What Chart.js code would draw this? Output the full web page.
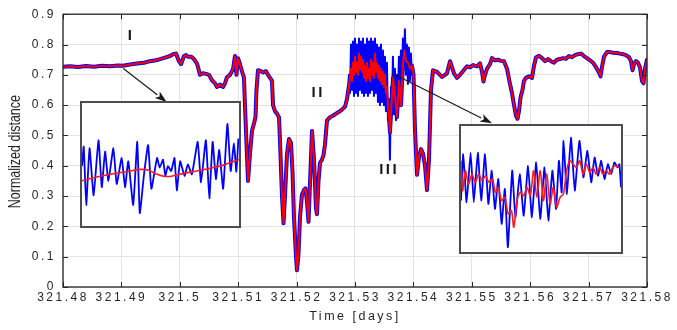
<!DOCTYPE html>
<html>
<head>
<meta charset="utf-8">
<script src="https://cdn.jsdelivr.net/npm/chart.js@4.4.1/dist/chart.umd.min.js"></script>
<style>
  html, body { margin: 0; padding: 0; background: #fff; }
  #wrap { position: relative; width: 677px; height: 330px; }
  #main { position: absolute; left: 0; top: 0; }
  .inset { position: absolute; background: #fff; border: 2px solid #4d4d4d; box-sizing: border-box; }
  .inset canvas { display: block; }
</style>
</head>
<body>
<div id="wrap">
  <canvas id="main" width="677" height="330"></canvas>
  <div class="inset" style="left:80px;top:101px;width:161px;height:127px;"><canvas id="inset1" width="157" height="123"></canvas></div>
  <div class="inset" style="left:459px;top:124px;width:164px;height:130px;"><canvas id="inset2" width="160" height="126"></canvas></div>
</div>
<script>
// axis ticks
const xTicks = [321.48, 321.49, 321.50, 321.51, 321.52, 321.53, 321.54, 321.55, 321.56, 321.57, 321.58];
const xTickLabels = ['321.48', '321.49', '321.5', '321.51', '321.52', '321.53', '321.54', '321.55', '321.56', '321.57', '321.58'];
const yTicks = [0, 0.1, 0.2, 0.3, 0.4, 0.5, 0.6, 0.7, 0.8, 0.9];
const yTickLabels = ['0', '0.1', '0.2', '0.3', '0.4', '0.5', '0.6', '0.7', '0.8', '0.9'];

// filtered (red) trace: time [days] and normalized distance
// (null = gap, the noisy part is in filtBurstV below)
const filtT = [
  321.48000, 321.48120, 321.48257, 321.48394, 321.48531, 321.48668, 321.48805, 321.48942, 321.49027, 321.49147,
  321.49267, 321.49387, 321.49490, 321.49592, 321.49661, 321.49747, 321.49832, 321.49884, 321.49935, 321.49986,
  321.50021, 321.50072, 321.50106, 321.50140, 321.50192, 321.50243, 321.50295, 321.50346, 321.50397, 321.50449,
  321.50500, 321.50551, 321.50603, 321.50637, 321.50688, 321.50740, 321.50774, 321.50808, 321.50860, 321.50911,
  321.50945, 321.50971, 321.50997, 321.51031, 321.51065, 321.51099, 321.51116, 321.51151, 321.51168, 321.51202,
  321.51236, 321.51271, 321.51296, 321.51313, 321.51339, 321.51390, 321.51425, 321.51476, 321.51510, 321.51545,
  321.51579, 321.51596, 321.51630, 321.51664, 321.51699, 321.51716, 321.51750, 321.51776, 321.51801, 321.51836,
  321.51870, 321.51904, 321.51930, 321.51955, 321.51990, 321.52007, 321.52033, 321.52058, 321.52092, 321.52127,
  321.52152, 321.52178, 321.52204, 321.52229, 321.52264, 321.52298, 321.52332, 321.52349, 321.52375, 321.52401,
  321.52435, 321.52461, 321.52486, 321.52521, 321.52572, 321.52623, 321.52675, 321.52726, 321.52777, 321.52829,
  321.52863, 321.52897,
  321.53300, 321.53582,
  321.53599, 321.53625, 321.53651, 321.53685, 321.53719, 321.53753, 321.53788, 321.53822, 321.53848, 321.53873,
  321.53908, 321.53942, 321.53976, 321.54002, 321.54027, 321.54062, 321.54096, 321.54130, 321.54164, 321.54199,
  321.54233, 321.54267, 321.54301, 321.54336, 321.54404, 321.54455, 321.54490, 321.54541, 321.54575, 321.54627,
  321.54661, 321.54695, 321.54747, 321.54798, 321.54849, 321.54918, 321.54969, 321.55021, 321.55089, 321.55140,
  321.55175, 321.55200, 321.55226, 321.55260, 321.55312, 321.55346, 321.55397, 321.55449, 321.55500, 321.55551,
  321.55603, 321.55654, 321.55688, 321.55723, 321.55757, 321.55783, 321.55808, 321.55834, 321.55868, 321.55894,
  321.55928, 321.55979, 321.56031, 321.56065, 321.56099, 321.56151, 321.56202, 321.56253, 321.56305, 321.56356,
  321.56408, 321.56459, 321.56510, 321.56562, 321.56613, 321.56664, 321.56716, 321.56767, 321.56818, 321.56870,
  321.56921, 321.56973, 321.57024, 321.57075, 321.57127, 321.57178, 321.57204, 321.57229, 321.57264, 321.57315,
  321.57366, 321.57418, 321.57486, 321.57538, 321.57589, 321.57640, 321.57692, 321.57726, 321.57752, 321.57777,
  321.57812, 321.57846, 321.57880, 321.57914, 321.57940, 321.57966, 321.58000
];
const filtV = [
  0.727, 0.728, 0.726, 0.729, 0.727, 0.730, 0.728, 0.731, 0.730, 0.734,
  0.737, 0.740, 0.745, 0.748, 0.752, 0.757, 0.762, 0.768, 0.770, 0.745,
  0.735, 0.762, 0.765, 0.760, 0.760, 0.752, 0.737, 0.700, 0.705, 0.703,
  0.700, 0.682, 0.672, 0.660, 0.668, 0.660, 0.672, 0.692, 0.700, 0.718,
  0.762, 0.700, 0.755, 0.735, 0.712, 0.690, 0.600, 0.430, 0.350, 0.440,
  0.515, 0.540, 0.560, 0.650, 0.715, 0.712, 0.708, 0.712, 0.700, 0.690,
  0.680, 0.600, 0.580, 0.572, 0.560, 0.480, 0.300, 0.210, 0.300, 0.440,
  0.488, 0.475, 0.380, 0.230, 0.100, 0.055, 0.110, 0.230, 0.305, 0.320,
  0.325, 0.280, 0.215, 0.340, 0.515, 0.420, 0.260, 0.240, 0.350, 0.410,
  0.420, 0.435, 0.470, 0.550, 0.560, 0.565, 0.572, 0.578, 0.585, 0.595,
  0.620, 0.665,
  null, 0.560,
  0.510, 0.600, 0.690, 0.630, 0.560, 0.680, 0.600, 0.740, 0.780, 0.745,
  0.740, 0.720, 0.730, 0.700, 0.520, 0.370, 0.430, 0.455, 0.440, 0.400,
  0.320, 0.420, 0.650, 0.715, 0.710, 0.700, 0.693, 0.700, 0.705, 0.745,
  0.725, 0.705, 0.690, 0.700, 0.712, 0.728, 0.725, 0.732, 0.728, 0.738,
  0.710, 0.678, 0.700, 0.720, 0.735, 0.755, 0.748, 0.750, 0.746, 0.745,
  0.720, 0.670, 0.640, 0.600, 0.565, 0.555, 0.580, 0.625, 0.650, 0.680,
  0.690, 0.695, 0.690, 0.730, 0.757, 0.763, 0.755, 0.745, 0.752, 0.745,
  0.740, 0.750, 0.752, 0.755, 0.753, 0.762, 0.758, 0.765, 0.768, 0.770,
  0.762, 0.755, 0.748, 0.740, 0.725, 0.708, 0.695, 0.725, 0.760, 0.775,
  0.775, 0.773, 0.772, 0.770, 0.768, 0.765, 0.758, 0.745, 0.715, 0.735,
  0.745, 0.740, 0.725, 0.680, 0.672, 0.720, 0.750
];

// filtered (red) trace inside the noisy burst, sampled every 0.000171 day from 321.52897
const filtBurstStart = 321.52897;
const filtBurstV = [
  0.665, 0.69, 0.72, 0.68, 0.74, 0.70, 0.76, 0.71, 0.74, 0.70,
  0.77, 0.72, 0.76, 0.71, 0.75, 0.69, 0.73, 0.68, 0.74, 0.69,
  0.72, 0.68, 0.75, 0.70, 0.74, 0.69, 0.77, 0.71, 0.74, 0.69,
  0.73, 0.68, 0.72, 0.67, 0.71, 0.66, 0.70, 0.64, 0.66, 0.60,
  0.56
];

// raw (blue) burst in region II-III, sampled every 0.000171 day from 321.5288
const burstStart = 321.5288;
const burstStep = 0.000171;
const burstV = [
  0.66, 0.70, 0.64, 0.80, 0.65, 0.81, 0.63, 0.82, 0.64, 0.80,
  0.63, 0.82, 0.65, 0.81, 0.64, 0.82, 0.63, 0.80, 0.64, 0.82,
  0.63, 0.81, 0.64, 0.82, 0.65, 0.81, 0.63, 0.82, 0.64, 0.80,
  0.61, 0.79, 0.60, 0.80, 0.61, 0.78, 0.60, 0.76, 0.58, 0.74,
  0.55, 0.62, 0.42, 0.66, 0.58, 0.76, 0.57, 0.72, 0.55, 0.70,
  0.60, 0.76, 0.62, 0.78, 0.68, 0.82, 0.72, 0.85, 0.70, 0.80,
  0.67, 0.79, 0.68, 0.77, 0.70, 0.72
];

// inset I (zoom of region I), axis units 0..100
const in1BlueX = [0, 1.1, 2.7, 4.8, 7.4, 10.5, 12.6, 14.7, 16.8, 20, 22.1, 25.3, 27.4, 29.5, 32.6, 35.2, 36.8, 39.4, 42.1, 44.2, 47.8, 49.5, 51.6, 53.1, 54.7, 56.8, 58.9, 60.4, 62.5, 65.3, 67.4, 70, 73.7, 75.8, 78.9, 81.1, 83.2, 85.3, 87.4, 89.9, 92.6, 94.7, 96.8, 98.3, 99.6];
const in1BlueY = [48.7, 64.5, 17.1, 63.2, 25, 69.7, 31.6, 60.5, 36.8, 63.2, 34.2, 55.3, 31.6, 52.6, 17.1, 68.4, 10.5, 40.8, 65.8, 30.3, 55.3, 47.4, 53.9, 40.8, 48.7, 44.7, 55.3, 28.9, 52.6, 40.8, 50, 42.1, 68.4, 35.5, 69.7, 22.4, 68.4, 38.2, 61.8, 30.3, 82.9, 44.7, 67.1, 44.2, 71.1];
const in1RedX = [0, 10, 20, 30, 36.8, 42, 47, 52, 57, 62, 70, 80, 90, 100];
const in1RedY = [36.8, 40, 42.5, 44.5, 46, 45.5, 42.5, 40.5, 40.5, 42, 44, 46.5, 49.5, 54];

// inset III (zoom of region III)
const in2BlueX = [0, 1.4, 3.5, 6, 8, 10.5, 12.6, 15, 17.1, 19.2, 21.2, 23.3, 25.4, 27.4, 29.3, 32, 34, 36.7, 39.2, 41.9, 44.3, 47, 49.5, 52.2, 54.6, 57.1, 59.4, 61.2, 62.9, 64.1, 66.2, 68.7, 71.1, 74, 76.5, 79, 81.4, 83.5, 85.6, 87.6, 89.7, 91.8, 93.8, 95.9, 97.9, 99, 100];
const in2BlueY = [40.8, 77.6, 39.5, 78.9, 39.5, 78.9, 40.8, 77.6, 38.2, 64.5, 34.2, 57.9, 22.4, 50, 3.9, 64.5, 27.6, 61.8, 28.9, 68.4, 27.6, 71.1, 26.3, 67.1, 25, 64.5, 34.2, 72.4, 47.4, 88.2, 46.1, 90.8, 48.7, 88.2, 59.2, 80.3, 55.3, 75, 60.5, 72.4, 57.9, 69.7, 61.8, 71.1, 67.1, 69.7, 51.3];
const in2RedX = [0, 1, 2.7, 4.7, 6.8, 8.9, 11.1, 13.2, 15.3, 17.5, 19.6, 21.6, 23.3, 25.4, 27.4, 29.5, 31.5, 33, 35, 37.1, 39.2, 41.2, 43.3, 45.4, 47.4, 49.5, 51.5, 53.6, 55.7, 57.7, 59.8, 61.9, 64, 66, 68, 70.1, 72.2, 74.2, 76.3, 78.4, 80.4, 82.5, 84.5, 86.6, 88.7, 90.7, 92.8, 94.8, 96.9, 99];
const in2RedY = [72.4, 48.7, 64.5, 53.9, 61.8, 55.3, 61.8, 56.6, 60.5, 55.3, 57.9, 47.4, 51.3, 40.8, 43.4, 30.3, 32.9, 19.7, 40.8, 47.4, 44.7, 51.3, 44.7, 64.5, 43.4, 64.5, 40.8, 61.8, 38.2, 51.3, 35.5, 43.4, 46.1, 64.5, 72.4, 69.7, 67.1, 72.4, 61.8, 69.7, 63.2, 67.1, 61.8, 67.1, 61.8, 64.5, 61.8, 67.1, 68.4, 67.1];

// annotations, in data units
const regionLabels = [
  { text: 'I', x: 321.49147, y: 0.827 },
  { text: 'II', x: 321.52349, y: 0.642 },
  { text: 'III', x: 321.53565, y: 0.385 }
];
const arrows = [
  { x0: 321.49033, y0: 0.721, x1: 321.49776, y1: 0.610 },
  { x0: 321.53634, y0: 0.705, x1: 321.55346, y1: 0.540 }
];

const FONT = "'Liberation Sans', Arial, sans-serif";
const INK = '#262626';

const pts = (xs, ys) => xs.map((v, i) => ({ x: v, y: ys[i] }));
const sampled = (t0, vals) => vals.map((v, i) => ({ x: t0 + i * burstStep, y: v }));

const axisDecor = {
  id: 'axisDecor',
  beforeDraw(chart) {
    chart.ctx.letterSpacing = '2.5px';
  },
  afterDraw(chart) {
    const { ctx, chartArea: a, scales: { x, y } } = chart;
    ctx.save();
    ctx.letterSpacing = '0px';
    ctx.strokeStyle = INK;
    ctx.lineWidth = 1;
    // inward ticks on all four sides (MATLAB style)
    ctx.beginPath();
    xTicks.forEach(v => {
      const px = Math.round(x.getPixelForValue(v)) + 0.5;
      ctx.moveTo(px, a.bottom); ctx.lineTo(px, a.bottom - 5);
      ctx.moveTo(px, a.top); ctx.lineTo(px, a.top + 5);
    });
    yTicks.forEach(v => {
      const py = Math.round(y.getPixelForValue(v)) + 0.5;
      ctx.moveTo(a.left, py); ctx.lineTo(a.left + 5, py);
      ctx.moveTo(a.right, py); ctx.lineTo(a.right - 5, py);
    });
    ctx.stroke();
    ctx.lineWidth = 1.3;
    ctx.strokeRect(a.left, a.top, a.right - a.left, a.bottom - a.top);

    // arrows
    ctx.strokeStyle = '#1a1a1a';
    ctx.fillStyle = '#1a1a1a';
    ctx.lineWidth = 1.2;
    arrows.forEach(ar => {
      const sx = x.getPixelForValue(ar.x0), sy = y.getPixelForValue(ar.y0);
      const ex = x.getPixelForValue(ar.x1), ey = y.getPixelForValue(ar.y1);
      const ang = Math.atan2(ey - sy, ex - sx);
      const hl = 12, hw = 4;
      const bx = ex - hl * Math.cos(ang), by = ey - hl * Math.sin(ang);
      ctx.beginPath();
      ctx.moveTo(sx, sy); ctx.lineTo(bx, by);
      ctx.stroke();
      ctx.beginPath();
      ctx.moveTo(ex, ey);
      ctx.lineTo(bx + hw * Math.sin(ang), by - hw * Math.cos(ang));
      ctx.lineTo(bx + 3 * Math.cos(ang), by + 3 * Math.sin(ang));
      ctx.lineTo(bx - hw * Math.sin(ang), by + hw * Math.cos(ang));
      ctx.closePath();
      ctx.fill();
    });

    // region labels
    ctx.fillStyle = '#1a1a1a';
    ctx.font = 'bold 15px ' + FONT;
    ctx.letterSpacing = '2.5px';
    ctx.textAlign = 'center';
    ctx.textBaseline = 'middle';
    regionLabels.forEach(l => {
      ctx.fillText(l.text, x.getPixelForValue(l.x) + 1.2, y.getPixelForValue(l.y));
    });

    // y axis title, drawn condensed
    ctx.letterSpacing = '0px';
    ctx.fillStyle = INK;
    ctx.font = '12.5px ' + FONT;
    ctx.translate(15, (a.top + a.bottom) / 2 + 1);
    ctx.rotate(-Math.PI / 2);
    ctx.scale(1, 1.35);
    ctx.fillText('Normalized distance', 0, 0);
    ctx.restore();
  }
};

new Chart(document.getElementById('main'), {
  type: 'line',
  data: {
    datasets: [
      { label: 'filtered', data: pts(filtT, filtV), borderColor: '#ff0000', borderWidth: 2 },
      { label: 'filtered burst', data: sampled(filtBurstStart, filtBurstV), borderColor: '#ff0000', borderWidth: 2 },
      { label: 'raw burst', data: sampled(burstStart, burstV), borderColor: '#0000ff', borderWidth: 2 },
      { label: 'raw', data: pts(filtT, filtV), borderColor: '#0000ff', borderWidth: 4 }
    ]
  },
  options: {
    responsive: false,
    animation: false,
    events: [],
    elements: {
      point: { radius: 0 },
      line: { tension: 0, borderJoinStyle: 'round', borderCapStyle: 'round' }
    },
    layout: { padding: { left: 0, right: 30, top: 10, bottom: 0 } },
    plugins: { legend: { display: false }, tooltip: { enabled: false } },
    scales: {
      x: {
        type: 'linear',
        min: 321.48,
        max: 321.58,
        afterBuildTicks: s => { s.ticks = xTicks.map(v => ({ value: v })); },
        afterFit: s => { s.height = 43; },
        ticks: {
          autoSkip: false, maxRotation: 0, minRotation: 0, padding: 3,
          color: INK, font: { family: FONT, size: 12 },
          callback: (v, i) => xTickLabels[i]
        },
        grid: { color: '#e3e3e3', drawTicks: false },
        border: { display: false },
        title: { display: true, text: 'Time [days]', color: INK, font: { family: FONT, size: 12.5 }, padding: { top: 0, bottom: 6 } }
      },
      y: {
        min: 0,
        max: 0.9,
        afterBuildTicks: s => { s.ticks = yTicks.map(v => ({ value: v })); },
        afterFit: s => { s.width = 63; },
        ticks: {
          padding: 7, color: INK, font: { family: FONT, size: 12 },
          callback: (v, i) => yTickLabels[i]
        },
        grid: { color: '#e3e3e3', drawTicks: false },
        border: { display: false }
      }
    }
  },
  plugins: [axisDecor]
});

function insetChart(id, bx, by, rx, ry) {
  return new Chart(document.getElementById(id), {
    type: 'line',
    data: {
      datasets: [
        { data: pts(rx, ry), borderColor: '#ff1a1a', borderWidth: 1.6, tension: 0.3 },
        { data: pts(bx, by), borderColor: '#0000ff', borderWidth: 1.8, tension: 0.15 }
      ]
    },
    options: {
      responsive: false,
      animation: false,
      events: [],
      elements: { point: { radius: 0 }, line: { borderJoinStyle: 'round' } },
      layout: { padding: 0 },
      plugins: { legend: { display: false }, tooltip: { enabled: false } },
      scales: {
        x: { type: 'linear', display: false, min: 0, max: 100 },
        y: { display: false, min: 0, max: 100 }
      }
    }
  });
}

insetChart('inset1', in1BlueX, in1BlueY, in1RedX, in1RedY);
insetChart('inset2', in2BlueX, in2BlueY, in2RedX, in2RedY);
</script>
</body>
</html>
